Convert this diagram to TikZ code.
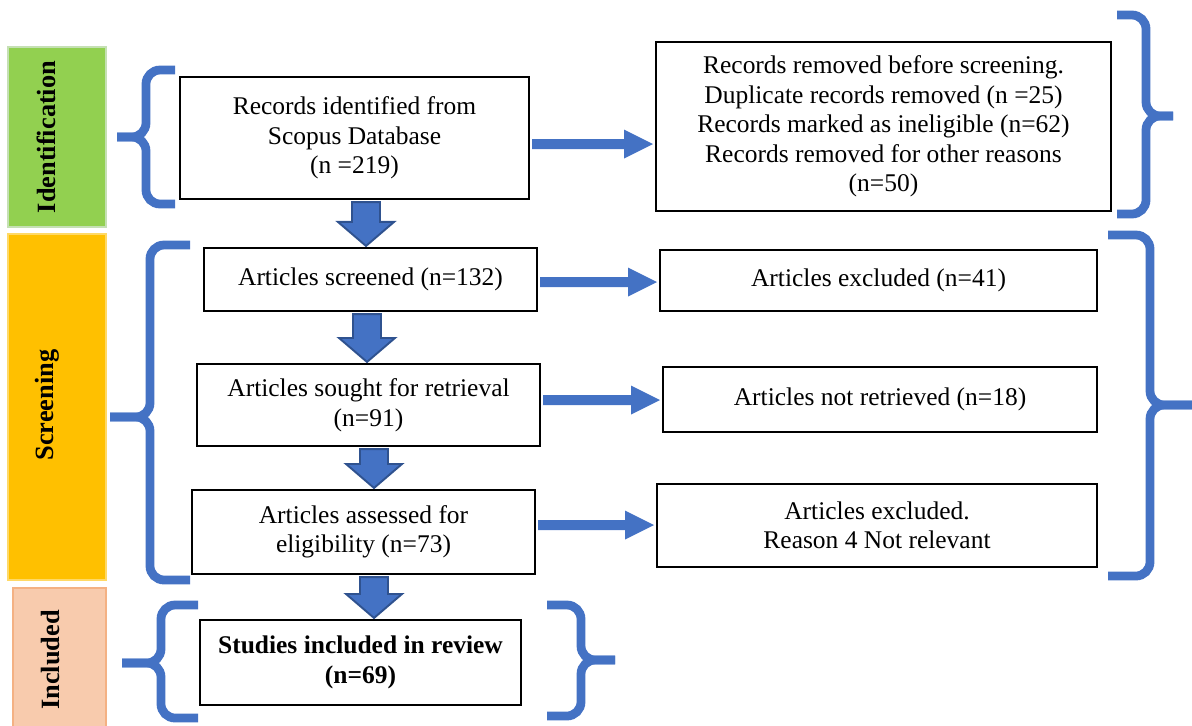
\documentclass[tikz,border=0pt]{standalone}
\usepackage{fontspec}
\setmainfont{Liberation Serif}
\usetikzlibrary{calc}
\definecolor{pblue}{HTML}{4472C4}
\definecolor{pbluedark}{HTML}{2F528F}
\definecolor{pgreen}{HTML}{92D050}
\definecolor{pgreenb}{HTML}{C5E0B4}
\definecolor{porange}{HTML}{FFC000}
\definecolor{porangeb}{HTML}{FFD966}
\definecolor{ppeach}{HTML}{F8CBAD}
\definecolor{ppeachb}{HTML}{F4B183}
\tikzset{
  box/.style={draw=black, line width=1.2pt, align=center, inner sep=0pt,
    font=\fontsize{14.5}{16.8}\selectfont},
  bar/.style={line width=1.2pt, inner sep=0pt},
  sidelabel/.style={rotate=90, inner sep=0pt, font=\fontsize{15}{18}\selectfont\bfseries},
  brace/.style={draw=pblue, line width=5pt, rounded corners=8pt},
  darrow/.style={fill=pblue, draw=pbluedark, line width=1.1pt, line join=miter},
  rarrow/.style={fill=pblue},
}
\newcommand\dnarr[3]{%
  \draw[darrow] ($(#1 |- #2.south)+(-14,2)$) -- ($(#1 |- #2.south)+(14,2)$)
    -- ($(#1 |- #3.north)+(14,-25)$) -- ($(#1 |- #3.north)+(28,-25)$)
    -- ($(#1 |- #3.north)+(0,-1)$) -- ($(#1 |- #3.north)+(-28,-25)$)
    -- ($(#1 |- #3.north)+(-14,-25)$) -- cycle;}
\newcommand\rtarr[3]{%
  \fill[rarrow] ($(#2.east |- #1)+(2,-5)$) -- ($(#3.west |- #1)+(-31,-5)$)
    -- ($(#3.west |- #1)+(-31,-14.5)$) -- ($(#3.west |- #1)+(-2,0)$)
    -- ($(#3.west |- #1)+(-31,14.5)$) -- ($(#3.west |- #1)+(-31,5)$)
    -- ($(#2.east |- #1)+(2,5)$) -- cycle;}
\begin{document}
\begin{tikzpicture}[x=0.02cm,y=-0.02cm]
\useasboundingbox (0,0) rectangle (1192,725);

% side bars
\node[bar, fill=pgreen, draw=pgreenb, minimum width=1.96cm, minimum height=3.6cm] (idbar) at (57,137) {};
\node[sidelabel] (idlab) at (46,137) {Identification};
\node[bar, fill=porange, draw=porangeb, minimum width=1.96cm, minimum height=6.92cm] (scbar) at (57,407) {};
\node[sidelabel] (sclab) at (47,405) {Screening};
\node[bar, fill=ppeach, draw=ppeachb, minimum width=1.86cm, minimum height=3.04cm] (inbar) at (59.5,664) {};
\node[sidelabel] (inlab) at (51,660) {Included};

% boxes
\node[box, minimum width=6.98cm, minimum height=2.44cm] (b1) at (354.5,138)
  {Records identified from\\Scopus Database\\(n =219)};
\node[box, minimum width=9.10cm, minimum height=3.38cm] (r1) at (883.5,126.5)
  {Records removed before screening.\\Duplicate records removed (n =25)\\Records marked as ineligible (n=62)\\Records removed for other reasons\\(n=50)};
\node[box, minimum width=6.66cm, minimum height=1.26cm] (b2) at (370.5,279.5)
  {Articles screened (n=132)};
\node[box, minimum width=8.74cm, minimum height=1.22cm] (r2) at (878.5,280.5)
  {Articles excluded (n=41)};
\node[box, minimum width=6.86cm, minimum height=1.64cm] (b3) at (368.5,405)
  {Articles sought for retrieval\\(n=91)};
\node[box, minimum width=8.68cm, minimum height=1.30cm] (r3) at (880,399.5)
  {Articles not retrieved (n=18)};
\node[box, minimum width=6.86cm, minimum height=1.68cm] (b4) at (363.5,532)
  {Articles assessed for\\eligibility (n=73)};
\node[box, minimum width=8.80cm, minimum height=1.66cm] (r4) at (877,525.5)
  {Articles excluded.\\Reason 4 Not relevant};
\node[box, minimum width=6.42cm, minimum height=1.70cm, font=\fontsize{14.5}{16.8}\selectfont\bfseries] (b5) at (360.5,662.5)
  {Studies included in review\\(n=69)};

% helper coordinates
\coordinate (xa1) at (366,0);
\coordinate (xa2) at (367,0);
\coordinate (xa3) at (374,0);
\coordinate (xa4) at (374,0);
\coordinate (ya1) at (0,144);
\coordinate (ya2) at (0,282);
\coordinate (ya3) at (0,400);
\coordinate (ya4) at (0,525);

% down arrows
\dnarr{xa1}{b1}{b2}
\dnarr{xa2}{b2}{b3}
\dnarr{xa3}{b3}{b4}
\dnarr{xa4}{b4}{b5}

% right arrows
\rtarr{ya1}{b1}{r1}
\rtarr{ya2}{b2}{r2}
\rtarr{ya3}{b3}{r3}
\rtarr{ya4}{b4}{r4}

% left braces
\draw[brace] (175,70) -- (146,70) -- (146,137) -- (117,137);
\draw[brace] (117,137) -- (146,137) -- (146,204) -- (175,204);
\draw[brace] (190,245) -- (150,245) -- (150,417) -- (110,417);
\draw[brace] (110,417) -- (150,417) -- (150,580) -- (190,580);
\draw[brace] (198,605) -- (161,605) -- (161,663) -- (122,663);
\draw[brace] (122,663) -- (161,663) -- (161,718) -- (198,718);
% right braces
\draw[brace] (1117,15) -- (1146,15) -- (1146,116) -- (1173,116);
\draw[brace] (1173,116) -- (1146,116) -- (1146,214) -- (1117,214);
\draw[brace] (1108,235) -- (1150,235) -- (1150,405) -- (1194,405);
\draw[brace] (1194,405) -- (1150,405) -- (1150,576) -- (1108,576);
\draw[brace] (547,605) -- (581,605) -- (581,660) -- (615,660);
\draw[brace] (615,660) -- (581,660) -- (581,716) -- (547,716);
\end{tikzpicture}
\end{document}
